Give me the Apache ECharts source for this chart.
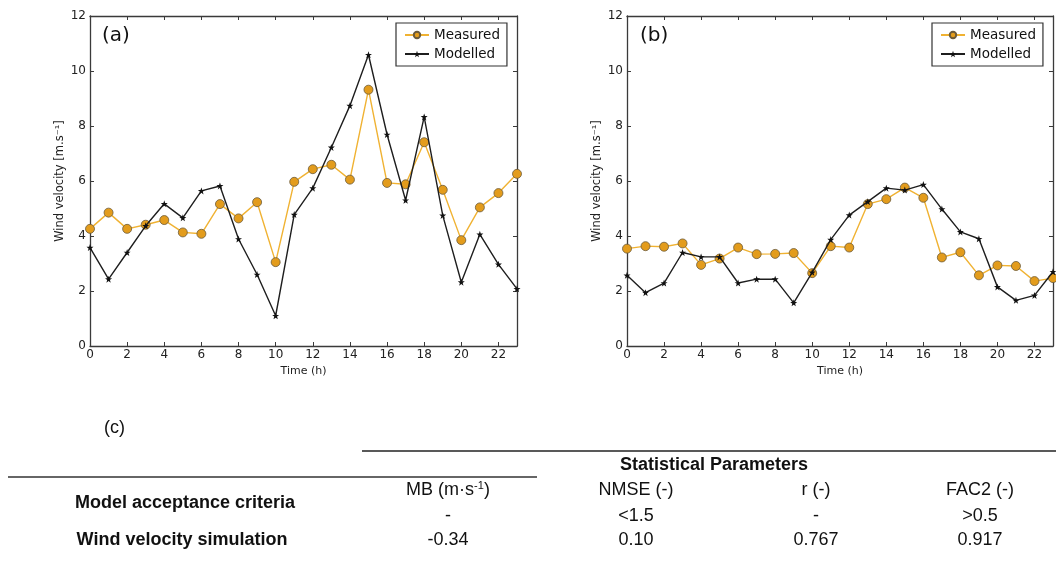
<!DOCTYPE html>
<html>
<head>
<meta charset="utf-8">
<script src="https://cdn.jsdelivr.net/npm/echarts@6/dist/echarts.min.js"></script>
<style>
html, body { margin: 0; padding: 0; background: #fff; }
#main { width: 1056px; height: 573px; }
</style>
</head>
<body>
<div id="main"></div>
<script>
// hours 0..23
var hours = []
for (var h = 0; h < 24; h++) hours.push(h)

// (a)
var measuredA = [4.26, 4.85, 4.26, 4.41, 4.58, 4.13, 4.08, 5.16, 4.64, 5.23, 3.05, 5.97,
  6.43, 6.59, 6.05, 9.32, 5.93, 5.88, 7.41, 5.68, 3.85, 5.04, 5.56, 6.26]
var modelledA = [3.58, 2.43, 3.40, 4.37, 5.17, 4.66, 5.64, 5.82, 3.89, 2.60, 1.10, 4.78,
  5.74, 7.22, 8.74, 10.59, 7.69, 5.30, 8.33, 4.75, 2.32, 4.06, 2.97, 2.08]

// (b)
var measuredB = [3.54, 3.63, 3.61, 3.73, 2.95, 3.18, 3.58, 3.34, 3.35, 3.38, 2.65, 3.63,
  3.58, 5.16, 5.34, 5.76, 5.39, 3.22, 3.41, 2.57, 2.93, 2.91, 2.36, 2.47]
var modelledB = [2.57, 1.94, 2.29, 3.40, 3.24, 3.24, 2.29, 2.43, 2.43, 1.57, 2.68, 3.87,
  4.76, 5.25, 5.74, 5.67, 5.87, 4.98, 4.15, 3.90, 2.15, 1.66, 1.84, 2.70]

// (c) table
var statHeaders = ['MB (m·s{sup|-1})', 'NMSE (-)', 'r (-)', 'FAC2 (-)']
var rowLabels = ['Model acceptance criteria', 'Wind velocity simulation']
var criteria = ['-', '<1.5', '-', '>0.5']
var simValues = ['-0.34', '0.10', '0.767', '0.917']

var starPath = 'path://M0,-10 L2.4,-3.1 9.5,-3.1 3.8,1.2 5.9,8.1 0,4 -5.9,8.1 -3.8,1.2 -9.5,-3.1 -2.4,-3.1 Z'
var axisCol = '#3a3a3a'
var font = 'Liberation Sans, Arial, sans-serif'
var tickFont = 'DejaVu Sans, sans-serif'

function pair (xs, ys) {
  return xs.map(function (x, i) { return [x, ys[i]] })
}

var chart = echarts.init(document.getElementById('main'))

function xAxes (gi) {
  return [{
    gridIndex: gi,
    type: 'value',
    min: 0,
    max: 23,
    interval: 2,
    name: 'Time (h)',
    nameLocation: 'middle',
    nameGap: 15,
    nameTextStyle: { fontSize: 11, color: '#222', fontFamily: tickFont },
    axisLine: { onZero: false, lineStyle: { color: axisCol, width: 1.3 } },
    axisTick: { inside: true, length: 4, lineStyle: { color: axisCol } },
    axisLabel: { fontSize: 12, color: '#222', margin: 3, fontFamily: tickFont, showMaxLabel: false },
    splitLine: { show: false }
  }, {
    gridIndex: gi,
    type: 'value',
    position: 'top',
    min: 0,
    max: 23,
    interval: 2,
    axisLine: { onZero: false, lineStyle: { color: axisCol, width: 1.3 } },
    axisTick: { inside: true, length: 4, lineStyle: { color: axisCol } },
    axisLabel: { show: false },
    splitLine: { show: false }
  }]
}

function yAxes (gi) {
  return [{
    gridIndex: gi,
    type: 'value',
    min: 0,
    max: 12,
    interval: 2,
    name: 'Wind velocity [m.s⁻¹]',
    nameLocation: 'middle',
    nameGap: 24,
    nameTextStyle: { fontSize: 11.5, color: '#222', fontFamily: tickFont },
    axisLine: { show: true, onZero: false, lineStyle: { color: axisCol, width: 1.3 } },
    axisTick: { show: true, inside: true, length: 4, lineStyle: { color: axisCol } },
    axisLabel: { fontSize: 12, color: '#222', margin: 4, fontFamily: tickFont },
    splitLine: { show: false }
  }, {
    gridIndex: gi,
    type: 'value',
    position: 'right',
    min: 0,
    max: 12,
    interval: 2,
    axisLine: { show: true, onZero: false, lineStyle: { color: axisCol, width: 1.3 } },
    axisTick: { show: true, inside: true, length: 4, lineStyle: { color: axisCol } },
    axisLabel: { show: false },
    splitLine: { show: false }
  }]
}

function measuredSeries (xi, yi, data) {
  return {
    name: 'Measured',
    type: 'line',
    xAxisIndex: xi,
    yAxisIndex: yi,
    data: pair(hours, data),
    symbol: 'circle',
    symbolSize: 9,
    z: 3,
    lineStyle: { color: '#f0b232', width: 1.4 },
    itemStyle: { color: '#e39c1c', borderColor: '#6b5a3a', borderWidth: 0.8 }
  }
}

function modelledSeries (xi, yi, data) {
  return {
    name: 'Modelled',
    type: 'line',
    xAxisIndex: xi,
    yAxisIndex: yi,
    data: pair(hours, data),
    symbol: starPath,
    symbolSize: 7,
    z: 4,
    lineStyle: { color: '#1e1e1e', width: 1.4 },
    itemStyle: { color: '#111' }
  }
}

function legendAt (left) {
  return {
    left: left,
    top: 23,
    orient: 'vertical',
    data: ['Measured', 'Modelled'],
    borderColor: '#333',
    borderWidth: 1.2,
    borderRadius: 0,
    padding: [5, 7, 5, 8],
    itemGap: 5,
    itemWidth: 24,
    itemHeight: 8,
    selectedMode: false,
    textStyle: { fontSize: 13.5, color: '#111', fontFamily: tickFont }
  }
}

var graphics = [
  { type: 'text', left: 102, top: 26, style: { text: '(a)', fontSize: 20, fill: '#111', fontFamily: tickFont } },
  { type: 'text', left: 640, top: 26, style: { text: '(b)', fontSize: 20, fill: '#111', fontFamily: tickFont } },
  { type: 'text', left: 104, top: 419, style: { text: '(c)', fontSize: 18, fill: '#111', fontFamily: font } },
  { type: 'line', shape: { x1: 362, y1: 451, x2: 1056, y2: 451 }, style: { stroke: '#222', lineWidth: 1.5 } },
  { type: 'line', shape: { x1: 8, y1: 477, x2: 537, y2: 477 }, style: { stroke: '#666', lineWidth: 2 } },
  { type: 'text', x: 714, y: 465, style: { text: 'Statistical Parameters', fontSize: 18, fontWeight: 'bold', fill: '#111', fontFamily: font, align: 'center', verticalAlign: 'middle' } },
  { type: 'text', x: 185, y: 503, style: { text: rowLabels[0], fontSize: 18, fontWeight: 'bold', fill: '#111', fontFamily: font, align: 'center', verticalAlign: 'middle' } },
  { type: 'text', x: 182, y: 540, style: { text: rowLabels[1], fontSize: 18, fontWeight: 'bold', fill: '#111', fontFamily: font, align: 'center', verticalAlign: 'middle' } }
]

var colX = [448, 636, 816, 980]
colX.forEach(function (cx, i) {
  graphics.push({ type: 'text', x: cx, y: 490, style: { text: statHeaders[i], fontSize: 18, fill: '#111', fontFamily: font, align: 'center', verticalAlign: 'middle', rich: { sup: { fontSize: 11, verticalAlign: 'top', padding: [0, 0, 8, 0], fill: '#111', fontFamily: font } } } })
  graphics.push({ type: 'text', x: cx, y: 516, style: { text: criteria[i], fontSize: 18, fill: '#111', fontFamily: font, align: 'center', verticalAlign: 'middle' } })
  graphics.push({ type: 'text', x: cx, y: 540, style: { text: simValues[i], fontSize: 18, fill: '#111', fontFamily: font, align: 'center', verticalAlign: 'middle' } })
})

var option = {
  backgroundColor: '#fff',
  animation: false,
  grid: [
    { left: 90, top: 16, width: 427, height: 330 },
    { left: 627, top: 16, width: 426, height: 330 }
  ],
  xAxis: xAxes(0).concat(xAxes(1)),
  yAxis: yAxes(0).concat(yAxes(1)),
  legend: [legendAt(396), legendAt(932)],
  series: [
    measuredSeries(0, 0, measuredA),
    modelledSeries(0, 0, modelledA),
    measuredSeries(2, 2, measuredB),
    modelledSeries(2, 2, modelledB)
  ],
  graphic: graphics
}

chart.setOption(option)
</script>
</body>
</html>
